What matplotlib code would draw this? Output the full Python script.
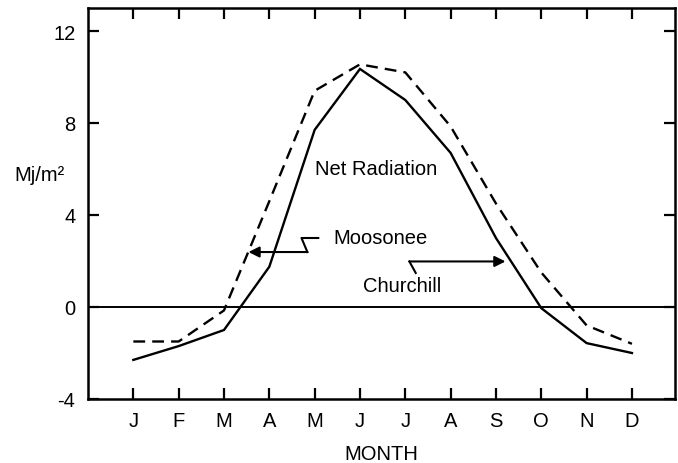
import matplotlib.pyplot as plt

# monthly net radiation (Mj/m2)
months = ['J', 'F', 'M', 'A', 'M', 'J', 'J', 'A', 'S', 'O', 'N', 'D']
churchill = [-2.3, -1.7, -1.0, 1.75, 7.7, 10.35, 9.0, 6.7, 3.0, -0.05, -1.57, -2.0]
moosonee = [-1.5, -1.5, -0.15, 4.6, 9.4, 10.55, 10.2, 7.85, 4.5, 1.5, -0.8, -1.6]
yticks = [-4, 0, 4, 8, 12]

plt.rcParams['font.family'] = ['Liberation Sans', 'DejaVu Sans']
plt.rcParams['font.size'] = 14.5
plt.rcParams['axes.unicode_minus'] = False

fig = plt.figure(figsize=(6.78, 4.64), dpi=100)
ax = fig.add_axes([88 / 678, 1 - 400 / 464, 587 / 678, 391 / 464])

x = list(range(len(months)))
ax.plot(x, churchill, color='black', lw=1.7, solid_joinstyle='miter')
ax.plot(x, moosonee, color='black', lw=1.7, linestyle=(0, (5, 3)))
ax.axhline(0, color='black', lw=1.4)

ax.set_xlim(-1, 11.95)
ax.set_ylim(-4, 13)
ax.set_xticks(x)
ax.set_xticklabels(months)
ax.set_yticks(yticks)
ax.tick_params(direction='in', length=8, width=1.6, pad=9,
               top=True, right=True, labelsize=14.5)
for s in ax.spines.values():
    s.set_linewidth(1.8)

ax.set_xlabel('MONTH', labelpad=10)
ax.set_ylabel('Mj/m²', rotation=0, va='center', ha='center')
ax.yaxis.set_label_coords(-0.082, 0.575)

# labels
ax.text(4.0, 6.0, 'Net Radiation', va='center', ha='left')
ax.text(4.41, 3.0, 'Moosonee', va='center', ha='left')
ax.text(5.06, 0.93, 'Churchill', va='center', ha='left')

# Moosonee arrow (zigzag)
ax.plot([4.08, 3.71, 3.84], [3.0, 3.0, 2.39], color='black', lw=1.5)
ax.annotate('', xy=(2.54, 2.39), xytext=(3.84, 2.39),
            arrowprops=dict(arrowstyle='-|>', mutation_scale=16, lw=1.5,
                            color='black', shrinkA=0, shrinkB=0))

# Churchill arrow
ax.plot([6.23, 6.09], [1.48, 1.98], color='black', lw=1.5)
ax.annotate('', xy=(8.21, 1.98), xytext=(6.09, 1.98),
            arrowprops=dict(arrowstyle='-|>', mutation_scale=16, lw=1.5,
                            color='black', shrinkA=0, shrinkB=0))

plt.savefig('out.png', dpi=100)
